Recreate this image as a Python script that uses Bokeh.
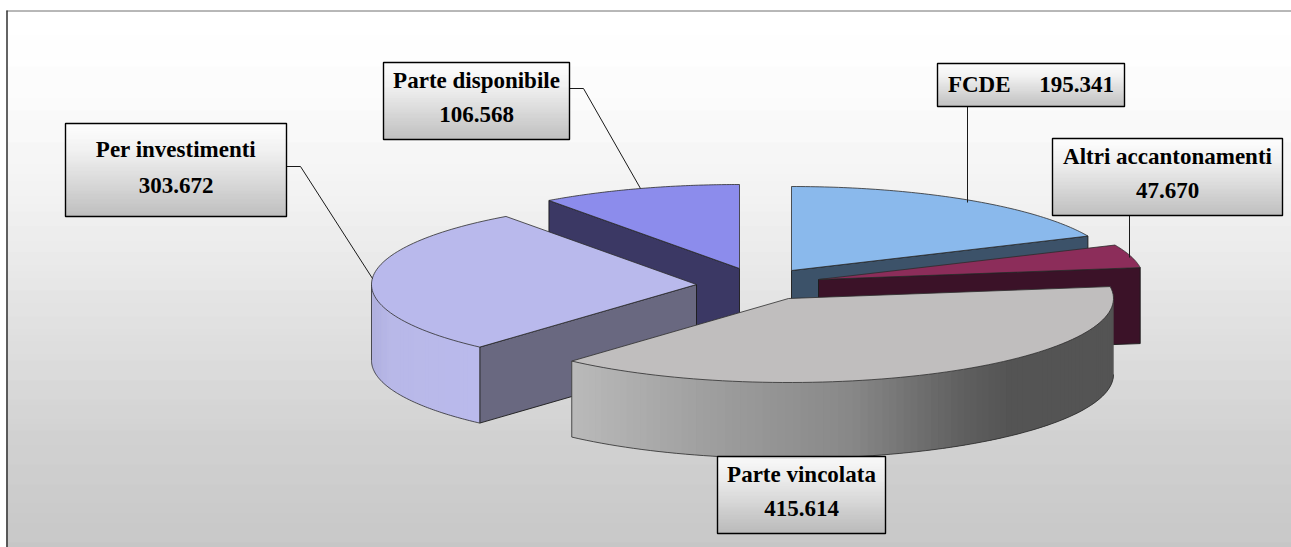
import math
import numpy as np
from bokeh.plotting import figure
from bokeh.embed import file_html
from bokeh.resources import INLINE
from bokeh.core.properties import value

# ---- data ----
categories = ["FCDE", "Altri accantonamenti", "Parte vincolata", "Per investimenti", "Parte disponibile"]
values = [195.341, 47.670, 415.614, 303.672, 106.568]

# ---- layout (reference pixel coordinates) ----
A, B, DEPTH = 325, 84, 76
centers = {"FCDE": (791, 270), "Altri accantonamenti": (818, 279), "Parte vincolata": (788, 298),
           "Per investimenti": (696, 284), "Parte disponibile": (739, 268)}
top_colors = {"FCDE": "#8ab9ec", "Altri accantonamenti": "#8c2d5a", "Parte vincolata": "#c0bebe",
              "Per investimenti": "#b9b9ec", "Parte disponibile": "#8c8cec"}
face_colors = {"FCDE": "#3c5269", "Altri accantonamenti": "#3b1228", "Parte vincolata": "#555555",
               "Per investimenti": "#696880", "Parte disponibile": "#3b3864"}
boxes = {"FCDE": (937, 1124, 63, 106), "Altri accantonamenti": (1052, 1282, 138, 215),
         "Parte vincolata": (717, 885, 456, 533), "Per investimenti": (65, 286, 123, 216),
         "Parte disponibile": (383, 569, 62, 139)}
leaders = [((286, 300, 372), (166, 166, 278)), ((569, 583, 640), (88, 88, 188)),
           ((967, 967), (106, 202)), ((1129, 1129), (215, 257))]
OUT = "#2c2c2c"
FONT = value("Liberation Serif")

X0, X1, Y0, Y1 = 0, 1291, 0, 547
p = figure(width=X1 - X0, height=Y1 - Y0, x_range=(X0, X1), y_range=(Y1, Y0),
           toolbar_location=None, output_backend="svg", min_border=0,
           x_axis_location=None, y_axis_location=None, outline_line_color=None)
p.grid.visible = False
p.background_fill_color = "white"

def hexg(v):
    v = int(round(v))
    return "#%02x%02x%02x" % (v, v, v)

def gradient(x0, x1, y0, y1, ys, gs):
    rows = np.arange(y0, y1)
    cols = [hexg(np.interp(r + .5, ys, gs)) for r in rows]
    p.quad(left=x0, right=x1, top=rows, bottom=rows + 1, fill_color=cols, line_color=cols, line_width=0.3)

# page background
gradient(6, X1, 10, Y1, [10, 60, 170, 230, 440, 547], [255, 254, 244, 236, 203, 192])
p.line([6, X1], [10.5, 10.5], line_color="#707070", line_width=1)
p.line([6.5, 6.5], [10, Y1], line_color="#303030", line_width=1.5)

# angles from the values
total = sum(values)
angles = {}
cum = 0.0
for c, v in zip(categories, values):
    angles[c] = (270 + 360 * cum / total, 270 + 360 * (cum + v) / total)
    cum += v

def pt(c, t):
    cx, cy = centers[c]
    r = math.radians(t)
    return cx + A * math.cos(r), cy + B * math.sin(r)

def arc(c, t0, t1, n=80):
    pts = [pt(c, t) for t in np.linspace(t0, t1, n)]
    return [q[0] for q in pts], [q[1] for q in pts]

def top(c):
    t0, t1 = angles[c]
    xs, ys = arc(c, t0, t1)
    cx, cy = centers[c]
    p.patch(xs + [cx], ys + [cy], fill_color=top_colors[c], line_color=OUT, line_width=0.8)

def face(c, t):
    cx, cy = centers[c]
    ex, ey = pt(c, t)
    p.patch([cx, ex, ex, cx], [cy, ey, ey + DEPTH, cy + DEPTH], fill_color=face_colors[c],
            line_color="#1a1a1a", line_width=0.9)

def wall(c, t0, t1, xs_stops, col_stops, n=100):
    # strips painted in order, each overlapping the next, so that no seams show
    ts = np.linspace(t0, t1, n)
    for i in range(n - 1):
        a, b = ts[i], ts[min(i + 2, n - 1)]
        xa, ya = pt(c, a)
        xb, yb = pt(c, b)
        xm = pt(c, (ts[i] + ts[i + 1]) / 2)[0]
        col = "#%02x%02x%02x" % tuple(int(round(np.interp(xm, xs_stops, [s[i2] for s in col_stops]))) for i2 in range(3))
        mid = pt(c, ts[i + 1])
        p.patch([xa, mid[0], xb, xb, mid[0], xa],
                [ya, mid[1], yb, yb + DEPTH, mid[1] + DEPTH, ya + DEPTH], fill_color=col, line_color=None)
    xs, ys = arc(c, t0, t1)
    p.line(xs, [y + DEPTH for y in ys], line_color=OUT, line_width=0.8)

# back to front
c = "Parte disponibile"
face(c, angles[c][0]); top(c)
c = "FCDE"
face(c, angles[c][1]); top(c)
c = "Altri accantonamenti"
face(c, angles[c][1]); top(c)
c = "Per investimenti"
t_start = angles[c][0] % 360
face(c, t_start)
wall(c, t_start, 180, [372, 390, 480], [(176, 176, 222), (184, 184, 232), (186, 186, 236)], n=50)
for t in (180, t_start):
    ex, ey = pt(c, t)
    p.line([ex, ex], [ey, ey + DEPTH], line_color=OUT, line_width=0.8)
top(c)
c = "Parte vincolata"
t_end = angles[c][1] % 360
wall(c, 0, t_end, [571, 700, 850, 960, 1010, 1113],
     [(186, 186, 186), (160, 160, 160), (136, 136, 136), (96, 96, 96), (84, 84, 84), (84, 84, 84)])
ex, ey = pt(c, t_end)
p.line([ex, ex], [ey, ey + DEPTH], line_color=OUT, line_width=0.8)
top(c)

# leaders
for xs, ys in leaders:
    p.line(list(xs), list(ys), line_color="#1a1a1a", line_width=1)

# label boxes
for c in categories:
    x0, x1, y0, y1 = boxes[c]
    gradient(x0, x1, y0, y1, [y0, y0 + .3 * (y1 - y0), y1], [255, 240, 184])
    p.quad(left=x0, right=x1, top=y0, bottom=y1, fill_alpha=0, line_color="black", line_width=1.4)

val_txt = {c: f"{v:.3f}" for c, v in zip(categories, values)}
lines = []
for c in categories:
    x0, x1, y0, y1 = boxes[c]
    xm = (x0 + x1) / 2
    if c == "FCDE":
        lines.append((xm, (y0 + y1) / 2 - 1, c + "\u00a0" * 5 + val_txt[c]))
    else:
        lines.append((xm, y0 + .235 * (y1 - y0) + (4 if c == "Per investimenti" else 0), c))
        lines.append((xm, y0 + .67 * (y1 - y0), val_txt[c]))
p.text([l[0] for l in lines], [l[1] for l in lines], text=[l[2] for l in lines],
       text_font=FONT, text_font_style="bold", text_font_size="23px", text_color="black",
       text_align="center", text_baseline="middle")

open("out.html", "w").write(file_html(p, INLINE))
